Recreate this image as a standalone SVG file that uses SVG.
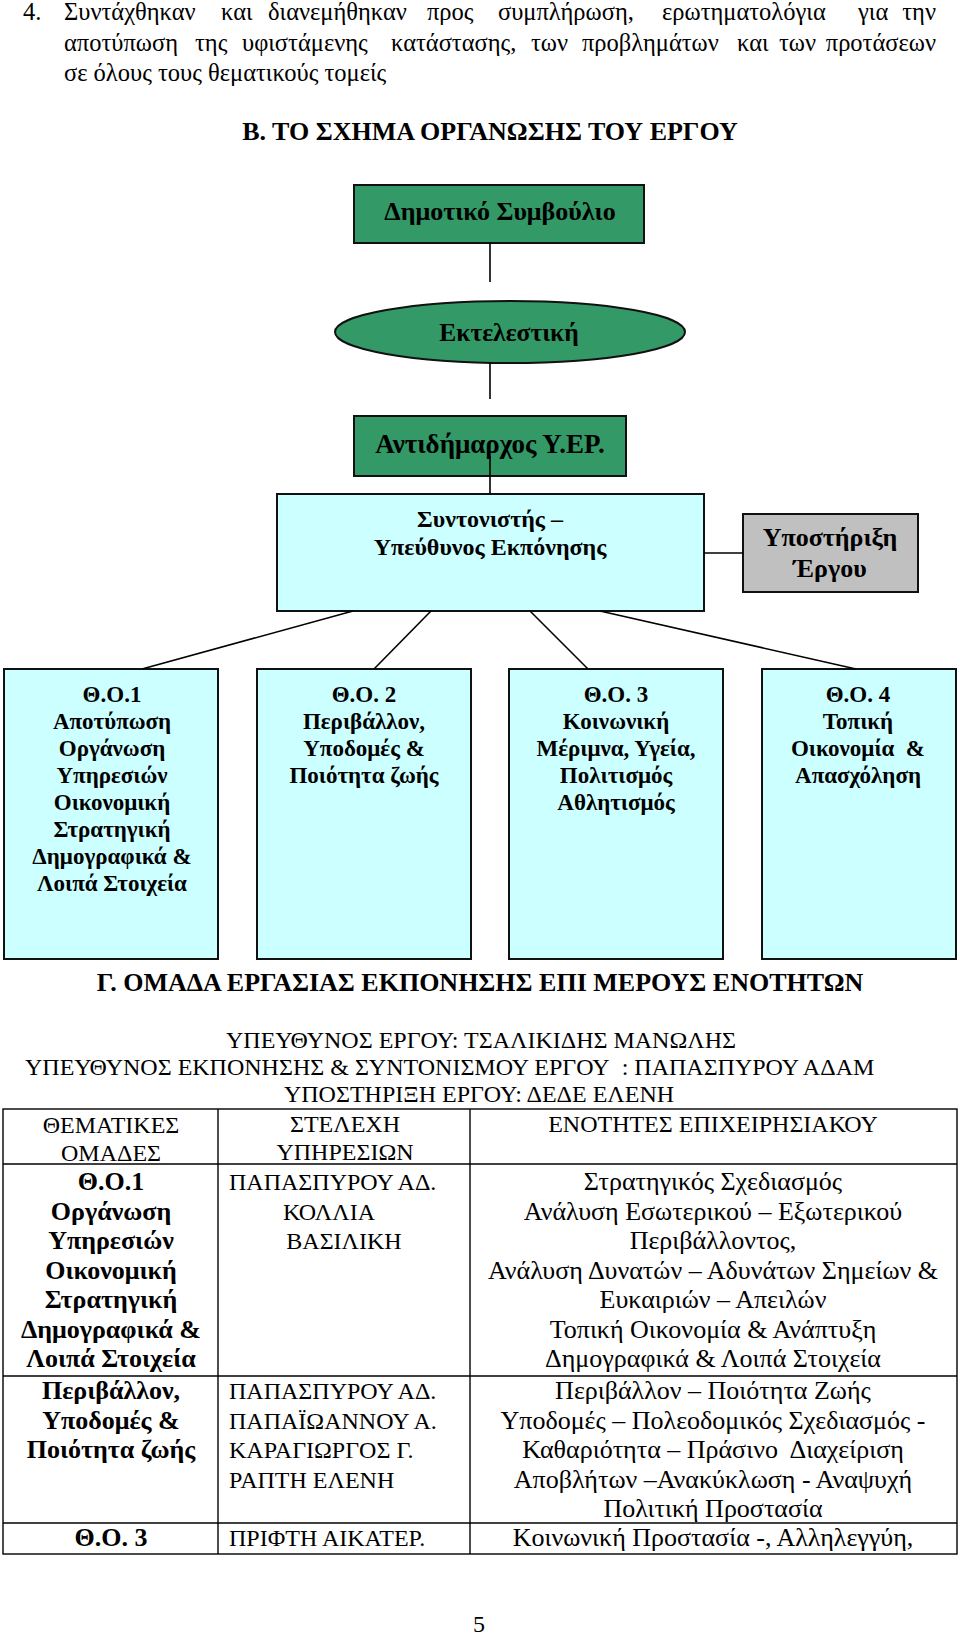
<svg xmlns="http://www.w3.org/2000/svg" width="960" height="1634" viewBox="0 0 960 1634">
<style>
text{font-family:"Liberation Serif","Times New Roman",serif;fill:#000}
.p{font-size:24.5px}
.h{font-size:26px;font-weight:bold;text-anchor:middle}
.c{text-anchor:middle}
.e{text-anchor:end}
.g{fill:#339966;stroke:#111;stroke-width:2}
.cy{fill:#ccffff;stroke:#111;stroke-width:2}
.gr{fill:#c0c0c0;stroke:#111;stroke-width:2}
.nb{font-size:26px;font-weight:bold;text-anchor:middle}
.to{font-size:23px;font-weight:bold;text-anchor:middle}
.tc{font-size:24px}
.tl{font-size:26px}
.tbb{font-size:26px;font-weight:bold;text-anchor:middle}
.ln{stroke:#000;stroke-width:1.6;fill:none}
.tg{stroke:#000;stroke-width:1.4;fill:none}
</style>
<rect x="0" y="0" width="960" height="1634" fill="#fff"/>

<g id="intro" class="p">
<text x="23" y="20">4.</text>
<text x="64" y="20">Συντάχθηκαν</text>
<text x="221" y="20">και</text>
<text x="268" y="20">διανεμήθηκαν</text>
<text x="427" y="20">προς</text>
<text x="498" y="20">συμπλήρωση,</text>
<text x="662" y="20">ερωτηματολόγια</text>
<text x="858" y="20">για</text>
<text x="936" y="20" class="e">την</text>
<text x="64" y="50.5">αποτύπωση</text>
<text x="195" y="50.5">της</text>
<text x="242" y="50.5">υφιστάμενης</text>
<text x="391" y="50.5">κατάστασης,</text>
<text x="531" y="50.5">των</text>
<text x="582" y="50.5">προβλημάτων</text>
<text x="737" y="50.5">και</text>
<text x="779" y="50.5">των</text>
<text x="936" y="50.5" class="e">προτάσεων</text>
<text x="64" y="81">σε όλους τους θεματικούς τομείς</text>
</g>

<text class="h" x="490" y="140">Β. ΤΟ ΣΧΗΜΑ ΟΡΓΑΝΩΣΗΣ ΤΟΥ ΕΡΓΟΥ</text>

<g id="dimotiko">
<rect class="g" x="354" y="185" width="290" height="58"/>
<text class="nb" x="500" y="220">Δημοτικό Συμβούλιο</text>
</g>
<g id="ektelestiki">
<ellipse class="g" cx="510" cy="332" rx="175" ry="31"/>
<text class="nb" x="509" y="341" style="font-size:25.5px">Εκτελεστική</text>
</g>
<g id="antidimarxos">
<rect class="g" x="354" y="416" width="272" height="60"/>
<text class="nb" x="490" y="453" style="font-size:27px">Αντιδήμαρχος Υ.ΕΡ.</text>
</g>
<g id="syntonistis">
<rect class="cy" x="277" y="494" width="427" height="117"/>
<text class="nb" x="490" y="527" style="font-size:24px">Συντονιστής –</text>
<text class="nb" x="490" y="555" style="font-size:24px">Υπεύθυνος Εκπόνησης</text>
</g>
<g id="ypostirixi">
<rect class="gr" x="743" y="514" width="175" height="78"/>
<text class="nb" x="830" y="546">Υποστήριξη</text>
<text class="nb" x="830" y="577">Έργου</text>
</g>

<g id="to1">
<rect class="cy" x="4" y="669" width="214" height="290"/>
<text class="to" x="112" y="702">Θ.Ο.1</text>
<text class="to" x="112" y="729">Αποτύπωση</text>
<text class="to" x="112" y="756">Οργάνωση</text>
<text class="to" x="112" y="783">Υπηρεσιών</text>
<text class="to" x="112" y="810">Οικονομική</text>
<text class="to" x="112" y="837">Στρατηγική</text>
<text class="to" x="112" y="864">Δημογραφικά &amp;</text>
<text class="to" x="112" y="891">Λοιπά Στοιχεία</text>
</g>
<g id="to2">
<rect class="cy" x="257" y="669" width="214" height="290"/>
<text class="to" x="364" y="702">Θ.Ο. 2</text>
<text class="to" x="364" y="729">Περιβάλλον,</text>
<text class="to" x="364" y="756">Υποδομές &amp;</text>
<text class="to" x="364" y="783">Ποιότητα ζωής</text>
</g>
<g id="to3">
<rect class="cy" x="509" y="669" width="214" height="290"/>
<text class="to" x="616" y="702">Θ.Ο. 3</text>
<text class="to" x="616" y="729">Κοινωνική</text>
<text class="to" x="616" y="756">Μέριμνα, Υγεία,</text>
<text class="to" x="616" y="783">Πολιτισμός</text>
<text class="to" x="616" y="810">Αθλητισμός</text>
</g>
<g id="to4">
<rect class="cy" x="762" y="669" width="194" height="290"/>
<text class="to" x="858" y="702">Θ.Ο. 4</text>
<text class="to" x="858" y="729">Τοπική</text>
<text class="to" x="858" y="756">Οικονομία&#160; &amp;</text>
<text class="to" x="858" y="783">Απασχόληση</text>
</g>

<g id="connectors" class="ln">
<line x1="490" y1="243" x2="490" y2="282"/>
<line x1="490" y1="363" x2="490" y2="399"/>
<line x1="490" y1="456" x2="490" y2="494"/>
<line x1="704" y1="553" x2="743" y2="553"/>
<line x1="353" y1="611" x2="142" y2="669"/>
<line x1="431" y1="611" x2="374" y2="669"/>
<line x1="530" y1="611" x2="588" y2="669"/>
<line x1="600" y1="611" x2="856" y2="669"/>
</g>

<text class="h" x="480" y="991">Γ. ΟΜΑΔΑ ΕΡΓΑΣΙΑΣ ΕΚΠΟΝΗΣΗΣ ΕΠΙ ΜΕΡΟΥΣ ΕΝΟΤΗΤΩΝ</text>

<g id="team" class="tc">
<text x="481" y="1048" class="c">ΥΠΕΥΘΥΝΟΣ ΕΡΓΟΥ: ΤΣΑΛΙΚΙΔΗΣ ΜΑΝΩΛΗΣ</text>
<text x="25" y="1075">ΥΠΕΥΘΥΝΟΣ ΕΚΠΟΝΗΣΗΣ &amp; ΣΥΝΤΟΝΙΣΜΟΥ ΕΡΓΟΥ&#160; : ΠΑΠΑΣΠΥΡΟΥ ΑΔΑΜ</text>
<text x="479" y="1102" class="c">ΥΠΟΣΤΗΡΙΞΗ ΕΡΓΟΥ: ΔΕΔΕ ΕΛΕΝΗ</text>
</g>

<g id="table">
<g class="tg">
<rect x="3" y="1109" width="954" height="445"/>
<line x1="3" y1="1164" x2="957" y2="1164"/>
<line x1="3" y1="1376" x2="957" y2="1376"/>
<line x1="3" y1="1523" x2="957" y2="1523"/>
<line x1="218" y1="1109" x2="218" y2="1554"/>
<line x1="470" y1="1109" x2="470" y2="1554"/>
</g>
<g class="tc">
<text class="c" x="111" y="1133">ΘΕΜΑΤΙΚΕΣ</text>
<text class="c" x="111" y="1161">ΟΜΑΔΕΣ</text>
<text class="c" x="345" y="1132">ΣΤΕΛΕΧΗ</text>
<text class="c" x="345" y="1160">ΥΠΗΡΕΣΙΩΝ</text>
<text class="c" x="713" y="1132">ΕΝΟΤΗΤΕΣ ΕΠΙΧΕΙΡΗΣΙΑΚΟΥ</text>
</g>
<g>
<text class="tbb" x="111" y="1190">Θ.Ο.1</text>
<text class="tbb" x="111" y="1219.5">Οργάνωση</text>
<text class="tbb" x="111" y="1249">Υπηρεσιών</text>
<text class="tbb" x="111" y="1278.5">Οικονομική</text>
<text class="tbb" x="111" y="1308">Στρατηγική</text>
<text class="tbb" x="111" y="1337.5">Δημογραφικά &amp;</text>
<text class="tbb" x="111" y="1367">Λοιπά Στοιχεία</text>
</g>
<g class="tc">
<text x="229" y="1190">ΠΑΠΑΣΠΥΡΟΥ ΑΔ.</text>
<text class="c" x="329" y="1219.5">ΚΟΛΛΙΑ</text>
<text class="c" x="344" y="1249">ΒΑΣΙΛΙΚΗ</text>
</g>
<g class="tl">
<text class="c" x="713" y="1190">Στρατηγικός Σχεδιασμός</text>
<text class="c" x="713" y="1219.5">Ανάλυση Εσωτερικού – Εξωτερικού</text>
<text class="c" x="713" y="1249">Περιβάλλοντος,</text>
<text class="c" x="713" y="1278.5">Ανάλυση Δυνατών – Αδυνάτων Σημείων &amp;</text>
<text class="c" x="713" y="1308">Ευκαιριών – Απειλών</text>
<text class="c" x="713" y="1337.5">Τοπική Οικονομία &amp; Ανάπτυξη</text>
<text class="c" x="713" y="1367">Δημογραφικά &amp; Λοιπά Στοιχεία</text>
</g>
<g>
<text class="tbb" x="111" y="1399">Περιβάλλον,</text>
<text class="tbb" x="111" y="1428.5">Υποδομές &amp;</text>
<text class="tbb" x="111" y="1458">Ποιότητα ζωής</text>
</g>
<g class="tc">
<text x="229" y="1399">ΠΑΠΑΣΠΥΡΟΥ ΑΔ.</text>
<text x="229" y="1428.5">ΠΑΠΑΪΩΑΝΝΟΥ Α.</text>
<text x="229" y="1458">ΚΑΡΑΓΙΩΡΓΟΣ Γ.</text>
<text x="229" y="1487.5">ΡΑΠΤΗ ΕΛΕΝΗ</text>
</g>
<g class="tl">
<text class="c" x="713" y="1399">Περιβάλλον – Ποιότητα Ζωής</text>
<text class="c" x="713" y="1428.5">Υποδομές – Πολεοδομικός Σχεδιασμός -</text>
<text class="c" x="713" y="1458">Καθαριότητα – Πράσινο&#160; Διαχείριση</text>
<text class="c" x="713" y="1487.5">Αποβλήτων –Ανακύκλωση - Αναψυχή</text>
<text class="c" x="713" y="1517">Πολιτική Προστασία</text>
</g>
<text class="tbb" x="111" y="1546">Θ.Ο. 3</text>
<text class="tc" x="229" y="1546">ΠΡΙΦΤΗ ΑΙΚΑΤΕΡ.</text>
<text class="tl c" x="713" y="1546">Κοινωνική Προστασία -, Αλληλεγγύη,</text>
</g>

<text class="tc c" x="479" y="1632">5</text>
</svg>
